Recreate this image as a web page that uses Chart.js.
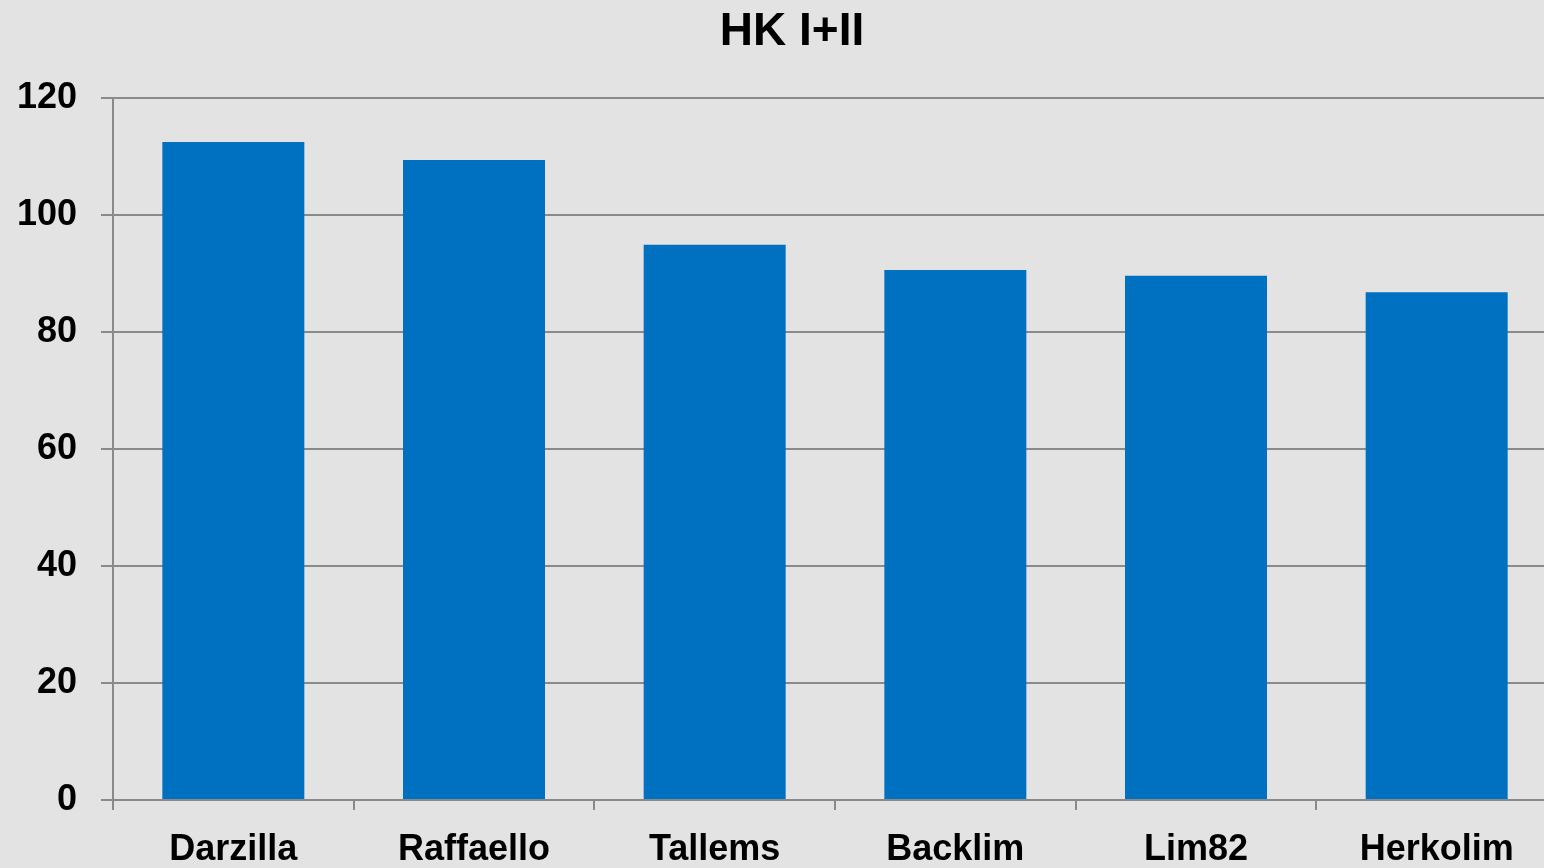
<!DOCTYPE html>
<html>
<head>
<meta charset="utf-8">
<script src="https://cdn.jsdelivr.net/npm/chart.js@4"></script>
<style>
	html, body { margin: 0; padding: 0; background: #e3e3e3; overflow: hidden; }
	#wrap { width: 1584px; height: 868px; }
</style>
</head>
<body>
<div id="wrap"><canvas id="chart"></canvas></div>
<script>
// values
const categories = ['Darzilla', 'Raffaello', 'Tallems', 'Backlim', 'Lim82', 'Herkolim'];
const scores = [112.5, 109.4, 94.9, 90.6, 89.6, 86.8];
const chartTitle = 'HK I+II';

const fontFamily = '"Liberation Sans", Arial, sans-serif';
const gridColor = '#8a8a8a';

// title is centred on the whole (wider than the window) chart, not on the plot
const centredTitle = {
	id: 'centredTitle',
	afterDraw(chart) {
		const ctx = chart.ctx;
		ctx.save();
		ctx.fillStyle = '#000';
		ctx.font = 'bold 46px ' + fontFamily;
		ctx.textAlign = 'center';
		ctx.textBaseline = 'middle';
		ctx.fillText(chartTitle, chart.width / 2, 32);
		ctx.restore();
	}
};

new Chart(document.getElementById('chart'), {
	type: 'bar',
	data: {
		labels: categories,
		datasets: [{
			label: chartTitle,
			data: scores,
			backgroundColor: '#0070C0',
			categoryPercentage: 1,
			barPercentage: 0.59
		}]
	},
	options: {
		responsive: true,
		maintainAspectRatio: false,
		animation: false,
		layout: { padding: { left: 0, right: 27, top: 98, bottom: 0 } },
		plugins: {
			legend: { display: false },
			tooltip: { enabled: false },
			title: { display: false }
		},
		scales: {
			x: {
				grid: { drawOnChartArea: false, drawTicks: true, tickLength: 10, color: gridColor, lineWidth: 2, offset: true },
				border: { color: gridColor, width: 2 },
				ticks: { color: '#000', font: { family: fontFamily, size: 36, weight: 'bold' }, padding: 18, maxRotation: 0 },
				afterFit: function(scale) { scale.height = 68; }
			},
			y: {
				min: 0,
				max: 120,
				ticks: { stepSize: 20, color: '#000', font: { family: fontFamily, size: 36, weight: 'bold' }, padding: 24 },
				grid: { color: gridColor, lineWidth: 2, tickLength: 12 },
				border: { color: gridColor, width: 2 },
				afterFit: function(scale) { scale.width = 113; }
			}
		}
	},
	plugins: [centredTitle]
});
</script>
</body>
</html>
